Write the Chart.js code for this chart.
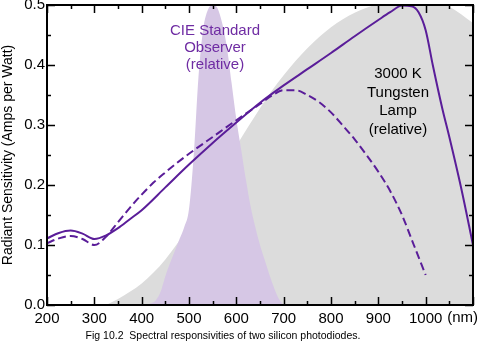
<!DOCTYPE html>
<html>
<head>
<meta charset="utf-8">
<title>Spectral responsivities of two silicon photodiodes</title>
<script src="https://cdn.jsdelivr.net/npm/chart.js@4.4.1/dist/chart.umd.min.js"></script>
<style>
  html, body { margin: 0; padding: 0; background: #fff; }
  canvas { display: block; }
</style>
</head>
<body>
<canvas id="chart" width="480" height="346"></canvas>
<script>
// Values (wavelength in nm, sensitivity in A/W)
const solidNm = [200, 225, 250, 275, 300, 325, 350, 375, 400, 450, 500, 550, 600, 650, 700, 750, 800, 850, 900, 925, 950, 970, 985, 1000, 1015, 1035, 1050, 1075, 1100];
const solidAmps = [0.111, 0.12, 0.124, 0.119, 0.11, 0.116, 0.128, 0.143, 0.158, 0.196, 0.234, 0.27, 0.304, 0.337, 0.366, 0.393, 0.42, 0.448, 0.475, 0.488, 0.499, 0.498, 0.488, 0.458, 0.40, 0.328, 0.28, 0.195, 0.10];

const dashedNm = [200, 225, 250, 275, 300, 325, 350, 375, 400, 425, 450, 475, 500, 550, 600, 650, 675, 700, 725, 750, 775, 800, 825, 850, 875, 900, 925, 950, 975, 1000];
const dashedAmps = [0.103, 0.111, 0.115, 0.11, 0.1, 0.114, 0.138, 0.162, 0.184, 0.204, 0.221, 0.237, 0.252, 0.28, 0.308, 0.335, 0.349, 0.358, 0.358, 0.35, 0.338, 0.321, 0.299, 0.276, 0.25, 0.222, 0.19, 0.15, 0.1, 0.05];

// CIE standard observer, relative (drawn on the same axis)
const cieNm = [400, 410, 420, 430, 440, 450, 460, 470, 480, 490, 500, 510, 520, 530, 540, 550, 560, 570, 580, 590, 600, 610, 620, 630, 640, 650, 660, 670, 680, 690, 700];
const cieRel = [0, 0.001, 0.003, 0.008, 0.022, 0.048, 0.07, 0.09, 0.11, 0.13, 0.16, 0.25, 0.38, 0.46, 0.492, 0.5, 0.495, 0.47, 0.43, 0.37, 0.31, 0.26, 0.21, 0.165, 0.13, 0.1, 0.075, 0.05, 0.028, 0.01, 0];

// 3000 K tungsten lamp, relative
const lampNm = [325, 350, 375, 400, 425, 450, 475, 500, 525, 550, 575, 600, 625, 650, 675, 700, 750, 800, 850, 900, 950, 1000, 1050, 1100];
const lampRel = [0, 0.01, 0.022, 0.036, 0.054, 0.076, 0.102, 0.13, 0.162, 0.196, 0.23, 0.265, 0.297, 0.328, 0.357, 0.383, 0.428, 0.463, 0.487, 0.502, 0.51, 0.508, 0.497, 0.47];

const xTicks = [200, 300, 400, 500, 600, 700, 800, 900, 1000, 1100];
const yTicks = [0.0, 0.1, 0.2, 0.3, 0.4, 0.5];

const toPoints = (xs, ys) => xs.map((x, i) => ({ x: x, y: ys[i] }));

const purple = '#5a1d99';
const font = "'Liberation Sans', Arial, Helvetica, sans-serif";

// frame, inward ticks, labels inside the plot and the caption
const decorations = {
    id: 'decorations',
    afterDraw(chart) {
        const ctx = chart.ctx;
        const a = chart.chartArea;
        const xs = chart.scales.x;
        const ys = chart.scales.y;
        ctx.save();
        ctx.strokeStyle = '#000';
        ctx.lineWidth = 1.5;
        for (let v = 200; v <= 1100; v += 50) {
            const px = Math.round(xs.getPixelForValue(v)) + 0.5;
            const len = v % 100 === 0 ? 8 : 4;
            ctx.beginPath();
            ctx.moveTo(px, a.bottom); ctx.lineTo(px, a.bottom - len);
            ctx.moveTo(px, a.top); ctx.lineTo(px, a.top + len);
            ctx.stroke();
        }
        for (let i = 0; i <= 10; i++) {
            const py = Math.round(ys.getPixelForValue(i * 0.05)) + 0.5;
            const len = i % 2 === 0 ? 8 : 4;
            ctx.beginPath();
            ctx.moveTo(a.left, py); ctx.lineTo(a.left + len, py);
            ctx.moveTo(a.right, py); ctx.lineTo(a.right - len, py);
            ctx.stroke();
        }
        ctx.lineWidth = 2;
        ctx.strokeRect(a.left, a.top, a.right - a.left, a.bottom - a.top);

        ctx.textAlign = 'center';
        ctx.textBaseline = 'middle';
        ctx.font = '15px ' + font;
        ctx.fillStyle = '#6f2ca3';
        ['CIE Standard', 'Observer', '(relative)'].forEach((t, i) => ctx.fillText(t, 215, 31 + i * 17));
        ctx.fillStyle = '#000';
        ['3000 K', 'Tungsten', 'Lamp', '(relative)'].forEach((t, i) => ctx.fillText(t, 398, 74 + i * 18.5));

        // axis unit in place of the 1100 label
        ctx.textAlign = 'right';
        ctx.fillText('(nm)', 478, 318);

        ctx.textAlign = 'center';
        ctx.font = '10.5px ' + font;
        ctx.fillText('Fig 10.2  Spectral responsivities of two silicon photodiodes.', 223, 336);
        ctx.restore();
    }
};

new Chart(document.getElementById('chart'), {
    type: 'line',
    data: {
        datasets: [
            {
                label: 'Photodiode A',
                data: toPoints(solidNm, solidAmps),
                borderColor: purple,
                borderWidth: 2,
                pointRadius: 0,
                fill: false,
                cubicInterpolationMode: 'monotone',
                order: 1
            },
            {
                label: 'Photodiode B',
                data: toPoints(dashedNm, dashedAmps),
                borderColor: purple,
                borderWidth: 2,
                borderDash: [8, 4],
                pointRadius: 0,
                fill: false,
                cubicInterpolationMode: 'monotone',
                order: 2
            },
            {
                label: 'CIE Standard Observer',
                data: toPoints(cieNm, cieRel),
                borderWidth: 0,
                borderColor: 'rgba(0,0,0,0)',
                backgroundColor: '#d6c7e5',
                pointRadius: 0,
                fill: 'origin',
                cubicInterpolationMode: 'monotone',
                order: 3
            },
            {
                label: '3000 K Tungsten Lamp',
                data: toPoints(lampNm, lampRel),
                borderWidth: 0,
                borderColor: 'rgba(0,0,0,0)',
                backgroundColor: '#dcdcdc',
                pointRadius: 0,
                fill: 'origin',
                cubicInterpolationMode: 'monotone',
                order: 4
            }
        ]
    },
    options: {
        responsive: false,
        animation: false,
        layout: { padding: { top: 5, right: 7, bottom: 19, left: 0 } },
        plugins: {
            legend: { display: false },
            tooltip: { enabled: false }
        },
        scales: {
            x: {
                type: 'linear',
                min: 200,
                max: 1100,
                grid: { display: false, drawTicks: false },
                border: { display: false },
                afterBuildTicks: s => { s.ticks = xTicks.map(v => ({ value: v })); },
                afterFit: s => { s.height = 22; s.paddingLeft = 0; s.paddingRight = 0; },
                ticks: {
                    autoSkip: false,
                    maxRotation: 0,
                    padding: 5,
                    color: '#000',
                    font: { family: font, size: 15 },
                    callback: v => (v === 1100 ? '' : String(v))
                }
            },
            y: {
                min: 0,
                max: 0.5,
                grid: { display: false, drawTicks: false },
                border: { display: false },
                afterBuildTicks: s => { s.ticks = yTicks.map(v => ({ value: v })); },
                afterFit: s => { s.width = 47; s.paddingTop = 0; s.paddingBottom = 0; },
                ticks: {
                    padding: 2,
                    color: '#000',
                    font: { family: font, size: 15 },
                    callback: v => v.toFixed(1)
                },
                title: {
                    display: true,
                    text: 'Radiant Sensitivity (Amps per Watt)',
                    color: '#000',
                    padding: 0,
                    font: { family: font, size: 14 }
                }
            }
        }
    },
    plugins: [decorations]
});
</script>
</body>
</html>
